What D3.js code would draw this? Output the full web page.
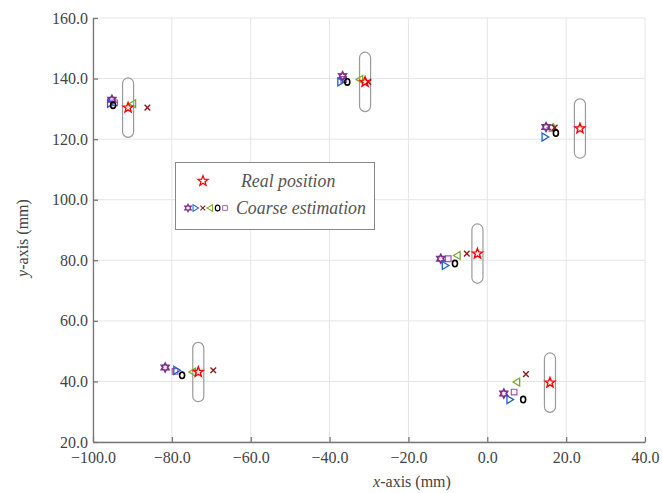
<!DOCTYPE html>
<html><head><meta charset="utf-8">
<script src="https://cdn.jsdelivr.net/npm/d3@7"></script>
<style>body{margin:0;background:#fff;} svg{display:block;} svg text{font-family:"Liberation Serif","Times New Roman",Times,"DejaVu Serif",serif;}</style>
</head><body>
<svg id="chart" width="662" height="493" font-family="Liberation Serif"></svg>
<script>
// ---- data ----
const xTicks = [-100, -80, -60, -40, -20, 0, 20, 40];
const yTicks = [20, 40, 60, 80, 100, 120, 140, 160];
const realX = [-91.1, -31.0, 23.5, -2.5, -73.3, 15.9];
const realY = [130.4, 138.9, 123.5, 82.2, 43.1, 39.6];
// coarse estimations per method (one value per target)
const hexX = [-95.2, -36.7, 14.9, -11.8, -81.7, 4.2];
const hexY = [133.0, 140.8, 124.0, 80.5, 44.6, 36.0];
const rtriX = [-95.6, -37.2, 14.6, -10.7, -78.8, 5.7];
const rtriY = [131.8, 138.9, 120.7, 78.3, 43.7, 34.0];
const crossX = [-86.2, -30.2, 17.1, -5.2, -69.5, 9.8];
const crossY = [130.4, 138.9, 123.8, 82.2, 43.7, 42.4];
const ltriX = [-89.9, -32.3, 16.1, -7.6, -74.7, 7.5];
const ltriY = [131.7, 139.7, 123.8, 81.6, 43.1, 39.8];
const circX = [-94.9, -35.5, 17.4, -8.2, -77.4, 9.1];
const circY = [131.2, 138.9, 122.0, 78.9, 42.0, 34.0];
const sqX = [-94.5, -36.4, 16.4, -9.9, -79.2, 6.8];
const sqY = [132.0, 139.7, 123.6, 80.5, 43.3, 36.5];
const capHalfW = 1.4, capHalfH = 9.8; // uncertainty region (mm)
const legendLabels = ["Real position", "Coarse estimation"];

// ---- layout ----
const svg = d3.select("#chart");
const L = 93, R = 645, T = 18, B = 442;
const x = d3.scaleLinear().domain([-100, 40]).range([L, R]);
const y = d3.scaleLinear().domain([20, 160]).range([B, T]);
const font = '"Liberation Serif","Times New Roman",Times,serif';
const axisCol = "#777";
const textCol = "#444";

// grid
const g = svg.append("g");
g.selectAll(".gx").data(xTicks).join("line")
  .attr("x1", d => x(d)).attr("x2", d => x(d)).attr("y1", T).attr("y2", B)
  .attr("stroke", "#e5e5e5").attr("stroke-width", 1);
g.selectAll(".gy").data(yTicks).join("line")
  .attr("y1", d => y(d)).attr("y2", d => y(d)).attr("x1", L).attr("x2", R)
  .attr("stroke", "#e5e5e5").attr("stroke-width", 1);

// axes
const fmt = d3.format(".1f");
const xAxis = svg.append("g").attr("transform", `translate(0,${B})`)
  .call(d3.axisBottom(x).tickValues(xTicks).tickFormat(fmt).tickSizeInner(-5).tickSizeOuter(0).tickPadding(10));
const yAxis = svg.append("g").attr("transform", `translate(${L},0)`)
  .call(d3.axisLeft(y).tickValues(yTicks).tickFormat(fmt).tickSizeInner(-5).tickSizeOuter(0).tickPadding(5));
[xAxis, yAxis].forEach(a => {
  a.attr("font-family", font).attr("font-size", 16);
  a.select(".domain").attr("stroke", axisCol).attr("stroke-width", 1.3);
  a.selectAll(".tick line").attr("stroke", axisCol).attr("stroke-width", 1.3);
  a.selectAll(".tick text").attr("fill", textCol);
});

// axis labels
const xl = svg.append("text").attr("x", 412).attr("y", 487).attr("text-anchor", "middle")
  .attr("fill", textCol).attr("font-size", 16);
xl.append("tspan").style("font-style", "italic").text("x");
xl.append("tspan").text("-axis (mm)");
const yl = svg.append("text").attr("transform", "translate(28,238) rotate(-90)").attr("text-anchor", "middle")
  .attr("fill", textCol).attr("font-size", 16);
yl.append("tspan").style("font-style", "italic").text("y");
yl.append("tspan").text("-axis (mm)");

// capsules
svg.selectAll(".cap").data(realX.map((d, i) => [d, realY[i]])).join("rect")
  .attr("x", d => x(d[0] - capHalfW)).attr("y", d => y(d[1] + capHalfH))
  .attr("width", d => x(d[0] + capHalfW) - x(d[0] - capHalfW))
  .attr("height", d => y(d[1] - capHalfH) - y(d[1] + capHalfH))
  .attr("rx", d => (x(d[0] + capHalfW) - x(d[0] - capHalfW)) / 2)
  .attr("fill", "none").attr("stroke", "#9a9a9a").attr("stroke-width", 1.2);

// marker paths
function starPath(n, ro, ri) {
  let p = [];
  for (let k = 0; k < 2 * n; k++) {
    const a = -Math.PI / 2 + k * Math.PI / n;
    const r = k % 2 ? ri : ro;
    p.push([r * Math.cos(a), r * Math.sin(a)]);
  }
  return "M" + p.map(q => q.join(",")).join("L") + "Z";
}
const shapes = {
  penta: starPath(5, 5.2, 2.2),
  hexa: starPath(6, 4.3, 2.4),
  rtri: "M-2.8,-4L3.8,0L-2.8,4Z",
  ltri: "M2.8,-4L-3.8,0L2.8,4Z",
  cross: "M-2.8,-2.8L2.8,2.8M-2.8,2.8L2.8,-2.8",
  sq: "M-2.8,-2.8H2.8V2.8H-2.8Z"
};
function drawMarkers(xs, ys, shape, color, sw) {
  svg.append("g").selectAll("path").data(xs.map((d, i) => [d, ys[i]])).join("path")
    .attr("transform", d => `translate(${x(d[0])},${y(d[1])})`)
    .attr("d", shapes[shape]).attr("fill", "none").attr("stroke", color).attr("stroke-width", sw);
}
function drawCircles(xs, ys) {
  svg.append("g").selectAll("ellipse").data(xs.map((d, i) => [d, ys[i]])).join("ellipse")
    .attr("cx", d => x(d[0])).attr("cy", d => y(d[1])).attr("rx", 2.5).attr("ry", 3.2)
    .attr("fill", "none").attr("stroke", "#000").attr("stroke-width", 1.6);
}
const colHex = "#7E2F8E", colR = "#1f5fd0", colX = "#8B1A1A", colL = "#77AC30", colSq = "#A855A8", colStar = "#FF0000";
drawMarkers(sqX, sqY, "sq", colSq, 1.2);
drawMarkers(ltriX, ltriY, "ltri", colL, 1.3);
drawMarkers(crossX, crossY, "cross", colX, 1.4);
drawMarkers(hexX, hexY, "hexa", colHex, 1.7);
drawMarkers(rtriX, rtriY, "rtri", colR, 1.3);
drawCircles(circX, circY);
drawMarkers(realX, realY, "penta", colStar, 1.4);

// legend
const lg = svg.append("g");
lg.append("rect").attr("x", 175.5).attr("y", 162.5).attr("width", 199).attr("height", 67)
  .attr("fill", "#fff").attr("stroke", "#888").attr("stroke-width", 1);
lg.append("path").attr("transform", "translate(203,181)").attr("d", shapes.penta)
  .attr("fill", "none").attr("stroke", colStar).attr("stroke-width", 1.3);
const row = [["hexa", colHex, 1.5], ["rtri", colR, 1.2], ["cross", colX, 1.3], ["ltri", colL, 1.2], ["circ", "#000", 1.3], ["sq", colSq, 1.1]];
row.forEach((r, i) => {
  const cx = 188 + i * 7.4;
  if (r[0] === "circ") {
    lg.append("ellipse").attr("cx", cx).attr("cy", 208).attr("rx", 2.3).attr("ry", 2.9)
      .attr("fill", "none").attr("stroke", "#000").attr("stroke-width", 1.2);
  } else {
    lg.append("path").attr("transform", `translate(${cx},208) scale(0.85)`).attr("d", shapes[r[0]])
      .attr("fill", "none").attr("stroke", r[1]).attr("stroke-width", r[2]);
  }
});
lg.selectAll("text").data(legendLabels).join("text")
  .attr("x", (d, i) => i === 0 ? 241 : 236).attr("y", (d, i) => i === 0 ? 187 : 214)
  .attr("fill", "#555").style("font-style", "italic").attr("font-size", 17.8)
  .text(d => d);
</script>
</body></html>
